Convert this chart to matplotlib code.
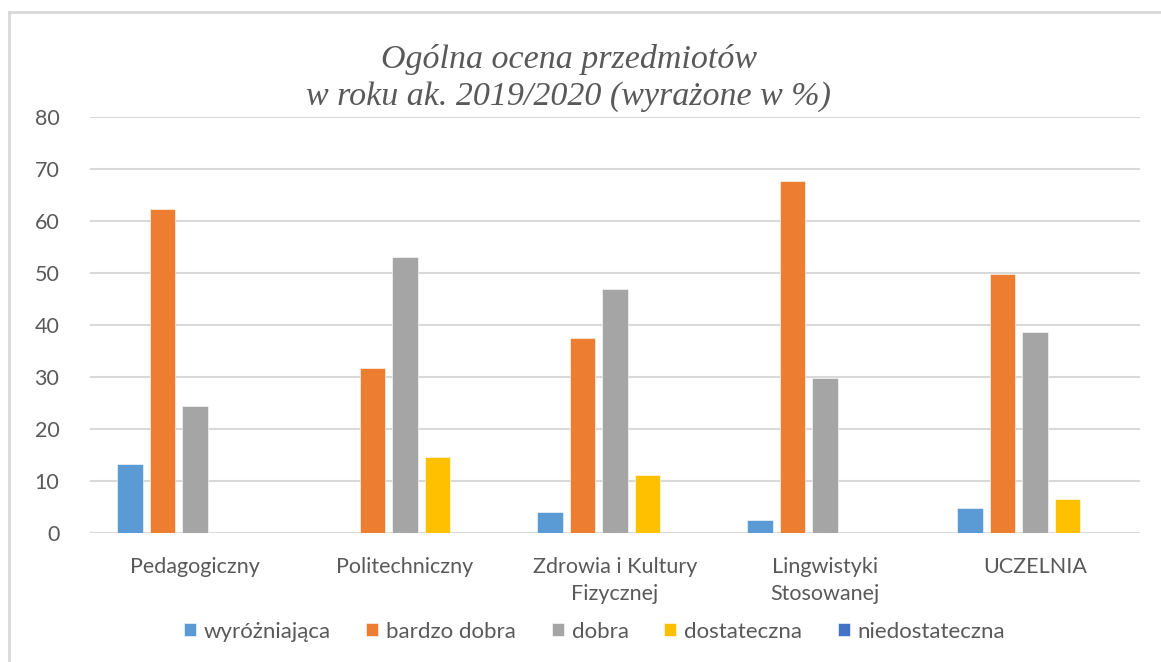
import numpy as np
import matplotlib.pyplot as plt
from matplotlib.lines import Line2D

categories = ["Pedagogiczny", "Politechniczny", "Zdrowia i Kultury\nFizycznej",
              "Lingwistyki\nStosowanej", "UCZELNIA"]
series_names = ["wyróżniająca", "bardzo dobra", "dobra", "dostateczna", "niedostateczna"]
wyrozniajaca = [13.2, 0, 4.1, 2.4, 4.7]
bardzo_dobra = [62.4, 31.7, 37.6, 67.7, 49.9]
dobra = [24.5, 53.1, 47.0, 29.9, 38.6]
dostateczna = [0, 14.7, 11.2, 0, 6.5]
niedostateczna = [0, 0, 0, 0, 0]
colors = ["#5B9BD5", "#ED7D31", "#A5A5A5", "#FFC000", "#4472C4"]

series = [wyrozniajaca, bardzo_dobra, dobra, dostateczna, niedostateczna]
text_color = "#595959"
plt.rcParams['font.family'] = ['Lato', 'DejaVu Sans']

fig = plt.figure(figsize=(11.61, 6.62), dpi=100)
ax = fig.add_axes([0.0775, 0.195, 0.9045, 0.628])

x = np.arange(len(categories))
pitch = 0.155
width = 0.122
for i, (name, vals) in enumerate(zip(series_names, series)):
    ax.bar(x + (i - 2) * pitch, vals, width, color=colors[i], label=name,
           edgecolor="white", linewidth=0.4, zorder=3)

ax.set_xlim(-0.5, len(categories) - 0.5)
ax.set_ylim(0, 80)
ax.set_yticks(range(0, 81, 10))
ax.grid(axis="y", color="#D9D9D9", linewidth=1.5, zorder=0)
for s in ax.spines.values():
    s.set_visible(False)
ax.tick_params(axis="both", length=0, colors=text_color, labelsize=15.5)
ax.tick_params(axis="y", pad=22)
ax.tick_params(axis="x", pad=17)
ax.set_xticks(x)
ax.set_xticklabels(categories, linespacing=1.45)

fig.text(0.49, 0.882, "Ogólna ocena przedmiotów\nw roku ak. 2019/2020 (wyrażone w %)",
         ha="center", va="center", fontsize=24.5, style="italic",
         family="Liberation Serif", color=text_color, linespacing=1.28)

leg = fig.legend(loc="center", bbox_to_anchor=(0.512, 0.046), ncol=5, frameon=False,
                 handlelength=0.55, handleheight=0.55, handletextpad=0.35,
                 columnspacing=1.6, fontsize=16)
for t in leg.get_texts():
    t.set_color(text_color)

# chart frame: only the top and left edges are visible in the crop
fig.add_artist(Line2D([0.008, 1.0], [0.982, 0.982], transform=fig.transFigure,
                      color="#D9D9D9", linewidth=2))
fig.add_artist(Line2D([0.008, 0.008], [0.0, 0.982], transform=fig.transFigure,
                      color="#D9D9D9", linewidth=2))

fig.savefig("out.png", dpi=100)
